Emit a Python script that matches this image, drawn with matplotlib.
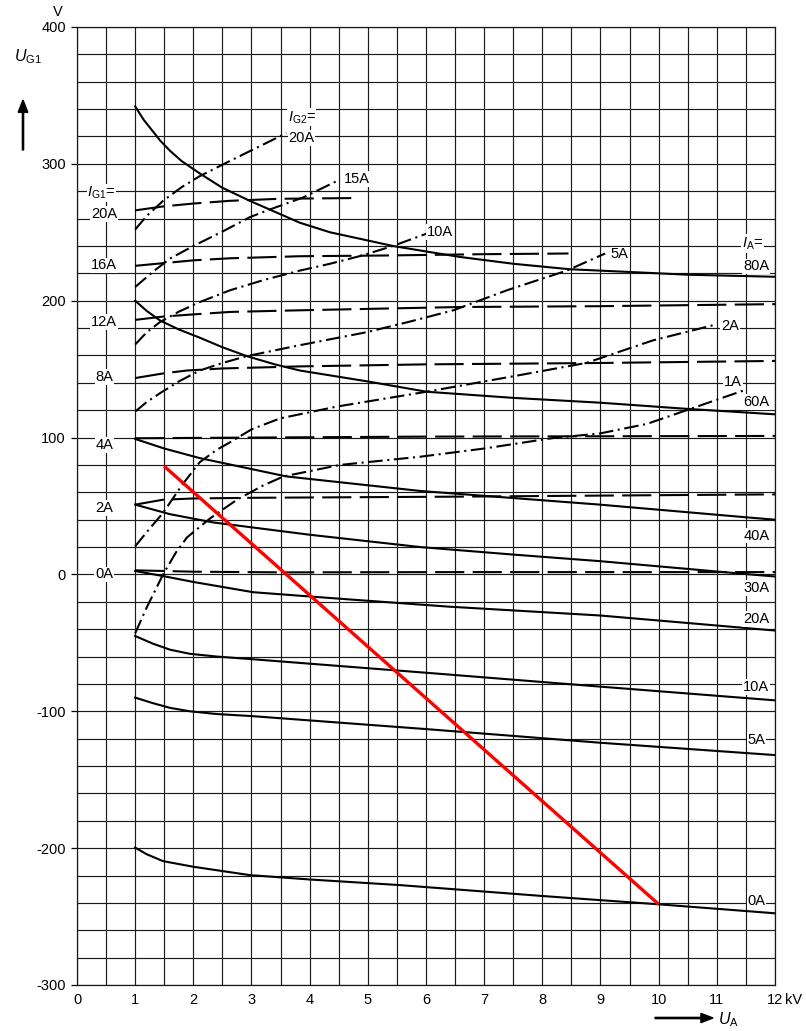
import numpy as np
import matplotlib
matplotlib.use('Agg')
import matplotlib.pyplot as plt

plt.rcParams['font.family'] = ['Liberation Sans', 'DejaVu Sans']
plt.rcParams['mathtext.fontset'] = 'custom'
plt.rcParams['mathtext.rm'] = 'Liberation Sans'
plt.rcParams['mathtext.it'] = 'Liberation Sans:italic'
plt.rcParams['axes.unicode_minus'] = False

# ---- data (U_A in kV, U_G1 in V) ----

# solid curves, I_A = const
ia80_x = [1, 1.15, 1.3, 1.43, 1.6, 1.8, 2.11, 2.5, 2.97, 3.4, 3.83, 4.35, 5.0, 5.43, 6.0, 6.58, 7.5, 8.47, 9.5, 10.5, 12]
ia80_y = [342, 332, 324, 317, 309.5, 302, 293, 282.5, 273, 265, 257, 250, 244, 240, 236, 232, 227, 223, 221, 219, 217.5]
ia60_x = [1, 1.2, 1.43, 1.75, 2.11, 2.5, 2.92, 3.4, 3.83, 5.0, 6.01, 7.5, 8.99, 10.48, 12]
ia60_y = [200, 192.5, 185.5, 179, 173, 166, 159.5, 153.5, 149, 141, 133.5, 129, 125.5, 121, 117]
ia40_x = [1, 1.5, 2.11, 3.6, 5.9, 8.99, 11.57, 12]
ia40_y = [99, 92, 85, 71.6, 61, 51, 41.5, 40]
ia30_x = [1, 1.6, 2.34, 4, 5.9, 7.5, 8.99, 11.57, 12]
ia30_y = [51, 44, 38, 29, 20, 14.5, 9.7, 0, -1.5]
ia20_x = [1, 1.48, 2, 3.03, 4.5, 6.41, 8.99, 10.5, 12]
ia20_y = [2.5, -1.2, -5.5, -13, -17.7, -23.6, -30, -35.5, -41]
ia10_x = [1, 1.3, 1.6, 1.94, 2.4, 3.03, 6.2, 9, 12]
ia10_y = [-45, -50.5, -55, -58, -60, -62, -72.5, -82, -92]
ia5_x = [1, 1.3, 1.6, 1.94, 2.4, 3, 6, 9, 12]
ia5_y = [-90, -94, -97.5, -100, -102, -103.5, -113, -123, -132]
ia0_x = [1, 1.2, 1.48, 2, 2.97, 4, 5.55, 8.01, 9.99, 12]
ia0_y = [-199.6, -204.5, -209.5, -213.6, -219.7, -222.9, -227, -235, -241, -247.6]

# dashed curves, I_G1 = const
ig20_x = [1, 1.5, 2, 2.63, 3.5, 4.74]
ig20_y = [266, 269, 271, 273, 274.5, 275]
ig16_x = [1, 1.5, 2, 2.63, 3.83, 5.2, 7, 8.45]
ig16_y = [225.5, 227.5, 229.5, 231, 232.5, 233, 234, 234.5]
ig12_x = [1, 1.5, 2, 2.63, 3.83, 6.58, 8.99, 12]
ig12_y = [186, 188.5, 190, 191.8, 193, 195.4, 196, 197.5]
ig8_x = [1, 1.5, 1.89, 2.5, 3.83, 6, 8.99, 12]
ig8_y = [143.5, 147, 149, 150.5, 152, 153.5, 154.5, 156]
ig4_x = [1, 3, 6, 12]
ig4_y = [99.5, 100, 100.7, 101.2]
ig2_x = [1, 1.48, 2, 3.03, 6.41, 9, 12]
ig2_y = [51, 54.6, 55.5, 56, 56.8, 57.6, 58.5]
ig0_x = [1, 2, 3.55, 6.4, 12]
ig0_y = [3, 2, 1.5, 1.7, 1.7]

# dash-dot curves, I_G2 = const
g20_x = [1, 1.2, 1.48, 1.8, 2.11, 2.6, 3.1, 3.6]
g20_y = [252, 262, 273, 283, 291, 301.5, 312, 322.5]
g15_x = [1, 1.3, 1.6, 2.0, 2.5, 2.97, 3.26, 3.89, 4.52]
g15_y = [210, 221, 230.8, 240, 250.5, 261, 265.8, 275.5, 288.5]
g10_x = [1, 1.2, 1.43, 1.75, 2.11, 2.63, 3.2, 3.83, 4.35, 4.9, 5.43, 6.01]
g10_y = [168, 177, 184.5, 192, 199, 207.6, 215, 222, 227, 233, 240, 249]
g5_x = [1, 1.2, 1.43, 1.75, 2.11, 2.5, 2.92, 3.83, 4.98, 5.7, 6.47, 7.39, 8.42, 9.08]
g5_y = [119, 126, 132.5, 141, 149, 154.5, 159.5, 167.5, 177, 184.5, 193, 207.6, 222, 234.5]
g2_x = [1, 1.2, 1.48, 1.8, 2.11, 2.4, 2.69, 3.0, 3.49, 4.46, 6.01, 7.62, 8.76, 9.9, 11.0]
g2_y = [20.5, 31, 45, 65, 82, 91, 98, 106, 114, 122.6, 133.5, 145.7, 154.6, 171, 182.8]
g1_x = [1, 1.2, 1.48, 1.7, 1.89, 2.29, 2.75, 3.2, 3.55, 4.52, 5.9, 7, 8.19, 8.99, 9.8, 10.48, 11.48]
g1_y = [-43, -24, 0, 16, 27, 41, 54.6, 65, 71.6, 80, 86, 92, 99.7, 103, 110, 120, 134.7]

# red load line
red_x = [1.5, 10]
red_y = [79, -241]

ia_labels = ['80A', '60A', '40A', '30A', '20A', '10A', '5A', '0A']
ia_label_y = [225, 126, 28.4, -10, -32.8, -82, -121, -238.7]
ig1_labels = ['20A', '16A', '12A', '8A', '4A', '2A', '0A']
ig1_label_y = [263.6, 225.8, 184.5, 144.4, 94.7, 48.8, 0]
ig2_labels = ['20A', '15A', '10A', '5A', '2A', '1A']
ig2_label_xy = [(3.86, 319), (4.81, 289), (6.24, 250), (9.33, 233.8), (11.23, 181.4), (11.28, 140.8)]

xticks = list(range(0, 13))
yticks = list(range(-300, 401, 100))

# ---- plot ----
fig = plt.figure(figsize=(8.06, 10.31), dpi=100)
ax = fig.add_axes([77/806, 1 - 985/1031, 698/806, 958/1031])

ax.set_xlim(0, 12)
ax.set_ylim(-300, 400)
ax.set_xticks(xticks)
ax.set_xticklabels([str(t) for t in xticks])
ax.set_xticks(np.arange(0, 12.01, 0.5), minor=True)
ax.set_yticks(yticks)
ax.set_yticks(np.arange(-300, 401, 20), minor=True)
ax.grid(True, which='both', color='#1a1a1a', lw=0.85)
ax.set_axisbelow(True)
ax.tick_params(axis='x', which='both', length=0, pad=6, labelsize=10.5)
ax.tick_params(axis='y', which='major', length=4, width=0.9, pad=4, labelsize=10.5)
ax.tick_params(axis='y', which='minor', length=0)
for s in ax.spines.values():
    s.set_color('#1a1a1a')
    s.set_linewidth(0.9)

solid = [(ia80_x, ia80_y), (ia60_x, ia60_y), (ia40_x, ia40_y), (ia30_x, ia30_y),
         (ia20_x, ia20_y), (ia10_x, ia10_y), (ia5_x, ia5_y), (ia0_x, ia0_y)]
dashed = [(ig20_x, ig20_y), (ig16_x, ig16_y), (ig12_x, ig12_y), (ig8_x, ig8_y),
          (ig4_x, ig4_y), (ig2_x, ig2_y), (ig0_x, ig0_y)]
dashdot = [(g20_x, g20_y), (g15_x, g15_y), (g10_x, g10_y), (g5_x, g5_y),
           (g2_x, g2_y), (g1_x, g1_y)]

for xs, ys in solid:
    ax.plot(xs, ys, color='black', lw=1.5, zorder=3)
for xs, ys in dashed:
    ax.plot(xs, ys, color='black', lw=1.5, dashes=[14, 4], zorder=3)
for xs, ys in dashdot:
    ax.plot(xs, ys, color='black', lw=1.5, dashes=[7, 2.2, 1, 2.2], zorder=3)

ax.plot(red_x, red_y, color='#ff0000', lw=2.4, zorder=4, solid_capstyle='butt')

lab = dict(fontsize=10.5, color='black', zorder=5,
           bbox=dict(facecolor='white', edgecolor='none', pad=0.6))

for t, y in zip(ia_labels, ia_label_y):
    ax.text(11.68, y, t, ha='center', va='center', **lab)
ax.text(11.62, 241.8, r'$I_{\rm A}$=', ha='center', va='center', **lab)

for t, y in zip(ig1_labels, ig1_label_y):
    ax.text(0.47, y, t, ha='center', va='center', **lab)
ax.text(0.42, 279, r'$I_{\rm G1}$=', ha='center', va='center', **lab)

for t, (x, y) in zip(ig2_labels, ig2_label_xy):
    ax.text(x, y, t, ha='center', va='center', **lab)
ax.text(3.86, 334, r'$I_{\rm G2}$=', ha='center', va='center', **lab)

# axis annotations
fig.text(58/806, 1 - 12/1031, 'V', fontsize=10.5, ha='center', va='center')
fig.text(28/806, 1 - 57/1031, r'$U_{\rm G1}$', fontsize=11.5, ha='center', va='center')
fig.patches.append(matplotlib.patches.FancyArrow(
    23/806, 1 - 150/1031, 0, 50/1031, width=0.0015, head_width=0.012,
    head_length=0.012, length_includes_head=True, color='black',
    transform=fig.transFigure, figure=fig))
fig.text(785/806, 1 - 1000/1031, 'kV', fontsize=10.5, ha='left', va='center')
fig.patches.append(matplotlib.patches.FancyArrow(
    655/806, 1 - 1018/1031, 58/806, 0, width=0.0012, head_width=0.009,
    head_length=0.015, length_includes_head=True, color='black',
    transform=fig.transFigure, figure=fig))
fig.text(728/806, 1 - 1020/1031, r'$U_{\rm A}$', fontsize=11.5, ha='center', va='center')

fig.savefig('out.png', dpi=100)
